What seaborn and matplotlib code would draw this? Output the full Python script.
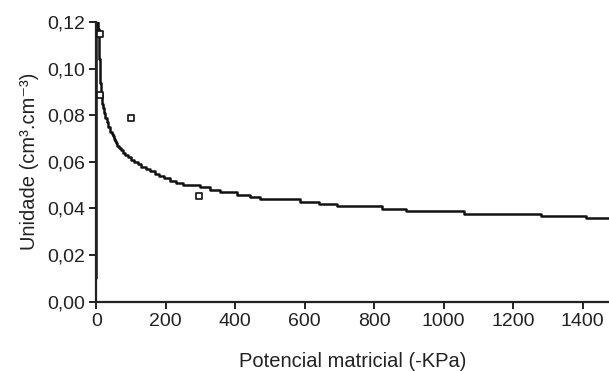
import matplotlib
matplotlib.use("Agg")
import matplotlib.pyplot as plt
import seaborn as sns
import pandas as pd

# fitted curve (stair-stepped as in the picture)
curve_x = [0, 0, 5, 8, 11, 13, 14, 16, 18, 20, 23, 26, 30, 34, 40, 44, 47, 50, 54, 57, 61, 66, 71, 77,
           84, 92, 100, 110, 120, 130, 142, 155, 168, 182, 196, 212, 230, 250,
           299, 328, 357, 405, 443, 472, 587, 640, 692, 822, 893, 1060, 1280, 1410, 1480]
curve_y = [0.010, 0.120, 0.117, 0.104, 0.094, 0.091, 0.089, 0.087, 0.085, 0.083, 0.081, 0.079, 0.077,
           0.075, 0.073, 0.072, 0.071, 0.070, 0.069, 0.068, 0.067, 0.066, 0.065, 0.064,
           0.063, 0.062, 0.061, 0.060, 0.059, 0.058, 0.057, 0.056, 0.055, 0.054, 0.053, 0.052, 0.051,
           0.050, 0.0493, 0.0479, 0.0469, 0.0457, 0.0450, 0.0439, 0.0429, 0.0420, 0.0410, 0.0398,
           0.0388, 0.0378, 0.0368, 0.0360, 0.0360]
# observed points
obs_x = [10, 10, 101, 296]
obs_y = [0.115, 0.0886, 0.0787, 0.0452]

xticks = [0, 200, 400, 600, 800, 1000, 1200, 1400]
yticks = [0.00, 0.02, 0.04, 0.06, 0.08, 0.10, 0.12]
ytick_labels = ["0,00", "0,02", "0,04", "0,06", "0,08", "0,10", "0,12"]

sns.set_style("ticks")
plt.rcParams["font.family"] = ["Liberation Sans", "DejaVu Sans"]

fig = plt.figure(figsize=(6.09, 3.71), dpi=100)
ax = fig.add_axes([0.158, 0.187, 0.842, 0.755])

df_c = pd.DataFrame({"x": curve_x, "y": curve_y})
df_o = pd.DataFrame({"x": obs_x, "y": obs_y})
sns.lineplot(data=df_c, x="x", y="y", sort=False, color="#111111", linewidth=1.8, ax=ax,
             estimator=None, drawstyle="steps-post")
sns.scatterplot(data=df_o, x="x", y="y", marker="s", s=24, facecolor="white", edgecolor="#111111",
                linewidth=1.2, ax=ax, zorder=3)

ax.set_xlim(0, 1476)
ax.set_ylim(0, 0.1203)
ax.set_xticks(xticks)
ax.set_xticklabels([str(t) for t in xticks])
ax.set_yticks(yticks)
ax.set_yticklabels(ytick_labels)
ax.tick_params(labelsize=14, length=5, width=1.4, colors="#222222", labelcolor="#222222", pad=3)
for s in ["top", "right"]:
    ax.spines[s].set_visible(False)
for s in ["left", "bottom"]:
    ax.spines[s].set_linewidth(1.6)
    ax.spines[s].set_color("#222222")
ax.set_xlabel("Potencial matricial (-KPa)", fontsize=14.5, color="#222222", labelpad=16)
ax.set_ylabel("Unidade (cm³.cm⁻³)", fontsize=14.5, color="#222222", labelpad=6)

fig.savefig("out.png", dpi=100)
